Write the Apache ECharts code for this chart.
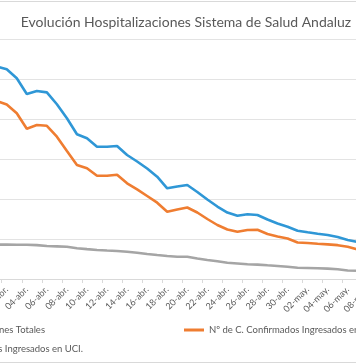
<!DOCTYPE html>
<html>
<head>
<meta charset="utf-8">
<script src="https://cdn.jsdelivr.net/npm/echarts@6/dist/echarts.min.js"></script>
<style>
html,body{margin:0;padding:0;background:#fff;overflow:hidden;width:356px;height:364px;}
#chart{position:absolute;left:-40px;top:0;width:440px;height:364px;}
</style>
</head>
<body>
<div id="chart"></div>
<script>
// ---- data ----
const categories = [
  "01-abr.","02-abr.","03-abr.","04-abr.","05-abr.","06-abr.","07-abr.","08-abr.","09-abr.","10-abr.",
  "11-abr.","12-abr.","13-abr.","14-abr.","15-abr.","16-abr.","17-abr.","18-abr.","19-abr.","20-abr.",
  "21-abr.","22-abr.","23-abr.","24-abr.","25-abr.","26-abr.","27-abr.","28-abr.","29-abr.","30-abr.",
  "01-may.","02-may.","03-may.","04-may.","05-may.","06-may.","07-may.","08-may."
];
const hospTotales = [
  2656,2621,2509,2312,2350,2333,2184,2009,1809,1759,
  1654,1654,1662,1550,1469,1381,1279,1134,1156,1175,
  1088,994,906,831,791,809,800,744,694,654,
  604,584,565,550,525,488,463,438
];
const ingresadosPlanta = [
  2225,2181,2071,1879,1925,1915,1779,1600,1425,1384,
  1290,1290,1304,1196,1121,1038,954,841,869,894,
  831,750,675,619,591,613,615,563,531,506,
  456,450,441,433,423,403,369,350
];
const ingresadosUCI = [
  430,431,429,428,423,413,408,403,384,373,
  363,356,350,340,329,313,300,288,279,279,
  256,238,221,203,194,184,180,171,163,153,
  141,138,135,130,121,106,103,94
];
const seriesNames = [
  "Nº de Hospitalizaciones Totales",
  "Nº de C. Confirmados Ingresados en Planta",
  "Nº de C. Confirmados Ingresados en UCI."
];
const yTicks = {min: 0, max: 3000, step: 500};
const titleText = "Evolución Hospitalizaciones Sistema de Salud Andaluz";

// ---- styling ----
const FONT = "Lato";
const OFF = 40; // container is shifted left by this many px
const colors = ["#2f97d6", "#ef7d31", "#a5a5a5"];
const legendFontSize = 9.5;

function textWidth(t, size){
  const c = document.createElement('canvas').getContext('2d');
  c.font = size + "px " + FONT;
  return c.measureText(t).width;
}
const iconW = 20, iconGap = 5;
const leg1Left = OFF + 45 - textWidth(seriesNames[0], legendFontSize) - iconGap - iconW;
const leg3Left = OFF + 83 - textWidth(seriesNames[2], legendFontSize) - iconGap - iconW;

const chart = echarts.init(document.getElementById('chart'), null, {renderer: 'canvas'});
const legendBase = {
  orient: 'horizontal', icon: 'rect', itemWidth: iconW, itemHeight: 3, itemGap: 10,
  textStyle: {fontFamily: FONT, fontSize: legendFontSize, color: '#595959'},
  padding: 0
};
chart.setOption({
  animation: false,
  backgroundColor: '#ffffff',
  title: {
    text: titleText, left: OFF + 181, top: 10, textAlign: 'center',
    textStyle: {fontFamily: FONT, fontSize: 14, fontWeight: 'normal', color: '#595959'}
  },
  legend: [
    Object.assign({}, legendBase, {data: [seriesNames[0]], left: leg1Left, top: 325}),
    Object.assign({}, legendBase, {data: [seriesNames[1]], left: OFF + 184, top: 325}),
    Object.assign({}, legendBase, {data: [seriesNames[2]], left: leg3Left, top: 344})
  ],
  grid: {left: OFF - 8.3, width: 381.1, top: 39, height: 240, containLabel: false},
  xAxis: {
    type: 'category', data: categories, boundaryGap: true,
    axisLine: {lineStyle: {color: '#d9d9d9', width: 1}},
    axisTick: {show: true, length: 4, lineStyle: {color: '#d9d9d9'},
      interval: function(i){ return i % 2 === 1; }},
    axisLabel: {
      interval: function(i){ return i % 2 === 1; },
      rotate: 45, margin: 9, fontFamily: FONT, fontSize: 9, color: '#595959'
    },
    splitLine: {show: false}
  },
  yAxis: {
    type: 'value', min: yTicks.min, max: yTicks.max, interval: yTicks.step,
    axisLabel: {show: false}, axisLine: {show: false}, axisTick: {show: false},
    splitLine: {lineStyle: {color: '#e3e3e3', width: 1}}
  },
  graphic: [{
    type: 'rect', silent: true, z: -1,
    shape: {x: OFF - 10, y: 1.5, width: 380, height: 361},
    style: {fill: null, stroke: '#d9d9d9', lineWidth: 1}
  }],
  series: [
    {name: seriesNames[0], type: 'line', data: hospTotales, symbol: 'none',
     lineStyle: {width: 2.6, color: colors[0]}, itemStyle: {color: colors[0]}},
    {name: seriesNames[1], type: 'line', data: ingresadosPlanta, symbol: 'none',
     lineStyle: {width: 2.6, color: colors[1]}, itemStyle: {color: colors[1]}},
    {name: seriesNames[2], type: 'line', data: ingresadosUCI, symbol: 'none',
     lineStyle: {width: 2.6, color: colors[2]}, itemStyle: {color: colors[2]}}
  ]
});
</script>
</body>
</html>
